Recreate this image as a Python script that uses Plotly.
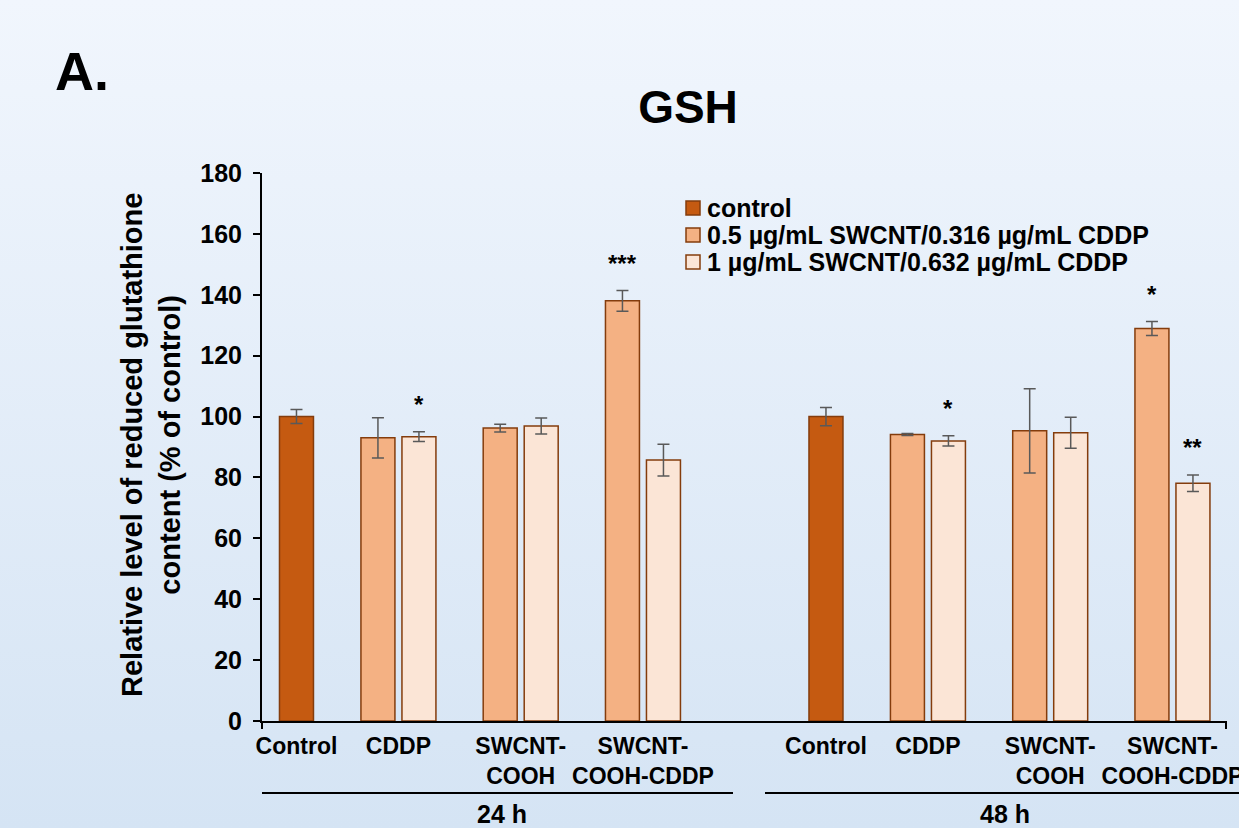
import base64
import plotly.graph_objects as go

# ---------------- data ----------------
times = ["24 h", "48 h"]
treatments = ["Control", "CDDP", "SWCNT-COOH", "SWCNT-COOH-CDDP"]
tick_labels = ["Control", "CDDP", "SWCNT-<br>COOH", "SWCNT-<br>COOH-CDDP"]
series_names = ["control",
                "0.5 µg/mL SWCNT/0.316 µg/mL CDDP",
                "1 µg/mL SWCNT/0.632 µg/mL CDDP"]

control_mean = [100.0, 100.0]
control_sd = [2.3, 3.0]
# order: 24 h CDDP, COOH, COOH-CDDP, 48 h CDDP, COOH, COOH-CDDP
low_mean = [93.0, 96.2, 138.0, 94.1, 95.3, 128.9]
low_sd = [6.6, 1.3, 3.4, 0.3, 13.8, 2.3]
high_mean = [93.4, 96.9, 85.7, 92.0, 94.7, 78.1]
high_sd = [1.6, 2.6, 5.2, 1.7, 5.1, 2.7]
low_sig = ["", "", "***", "", "", "*"]
high_sig = ["*", "", "", "*", "", "**"]

# ---------------- category layout (axis units) ----------------
GROUP_STEP = 4.331   # distance between the two time groups
CTRL_GAP = 0.834     # distance from control slot to first treatment slot


def cat_pos(gi, ti):
    return gi * GROUP_STEP + (0.0 if ti == 0 else CTRL_GAP + ti - 1)


x_control = [cat_pos(gi, 0) for gi in range(len(times))]
x_treat = [cat_pos(gi, ti) for gi in range(len(times)) for ti in range(1, len(treatments))]
tick_vals = [cat_pos(gi, ti) for gi in range(len(times)) for ti in range(len(treatments))]

# ---------------- style ----------------
FONT = "Liberation Sans, Arial, sans-serif"
col_ctrl = "#C55A11"
col_low = "#F4B183"
col_high = "#FBE5D6"
edge = "#843C0C"
err_col = "#595959"
W = 0.278          # bar width (axis units)
HALF_SEP = 0.1677  # half distance between paired bar centres

fig = go.Figure()
fig.add_trace(go.Bar(
    x=x_control, y=control_mean, name=series_names[0], showlegend=False,
    marker=dict(color=col_ctrl, line=dict(color=edge, width=1.5)),
    width=W, offset=-W / 2,
    error_y=dict(type="data", array=control_sd, color=err_col, thickness=1.5, width=6),
))
fig.add_trace(go.Bar(
    x=x_treat, y=low_mean, name=series_names[1], showlegend=False,
    marker=dict(color=col_low, line=dict(color=edge, width=1.5)),
    width=W, offset=-HALF_SEP - W / 2,
    error_y=dict(type="data", array=low_sd, color=err_col, thickness=1.5, width=6),
))
fig.add_trace(go.Bar(
    x=x_treat, y=high_mean, name=series_names[2], showlegend=False,
    marker=dict(color=col_high, line=dict(color=edge, width=1.5)),
    width=W, offset=HALF_SEP - W / 2,
    error_y=dict(type="data", array=high_sd, color=err_col, thickness=1.5, width=6),
))

# significance marks
annotations = []
for xs, means, sds, sigs, sgn in [(x_treat, low_mean, low_sd, low_sig, -1),
                                  (x_treat, high_mean, high_sd, high_sig, 1)]:
    for x, m, s, g in zip(xs, means, sds, sigs):
        if g:
            annotations.append(dict(
                x=x + sgn * HALF_SEP, y=m + s, xref="x", yref="y", text=g,
                showarrow=False, xanchor="center", yanchor="bottom", yshift=12,
                font=dict(family=FONT, size=24, color="black", weight="bold")))

# figure geometry
FW, FH = 1239, 828
ML, MR, MT, MB = 262, 13, 173, 107
PW, PH = FW - ML - MR, FH - MT - MB


def px(xp):
    return (xp - ML) / PW


def py(yp):
    return (FH - MB - yp) / PH


# y-axis title
annotations.append(dict(
    x=px(151), y=py(445), xref="paper", yref="paper", showarrow=False,
    text="Relative level of reduced glutathione<br>content (% of control)",
    textangle=-90, xanchor="center", yanchor="middle",
    font=dict(family=FONT, size=29, color="black", weight="bold")))
# panel letter
annotations.append(dict(
    x=px(82), y=py(71), xref="paper", yref="paper", showarrow=False,
    text="A.", xanchor="center", yanchor="middle",
    font=dict(family=FONT, size=54, color="black", weight="bold")))
# time group labels
for t, cx in zip(times, [502, 1005]):
    annotations.append(dict(
        x=px(cx), y=py(814), xref="paper", yref="paper", showarrow=False,
        text=t, xanchor="center", yanchor="middle",
        font=dict(family=FONT, size=25, color="black", weight="bold")))

shapes = [
    # group underlines
    dict(type="line", xref="paper", yref="paper", x0=px(262), x1=px(733),
         y0=py(793), y1=py(793), line=dict(color="black", width=2)),
    dict(type="line", xref="paper", yref="paper", x0=px(765), x1=px(1245),
         y0=py(793), y1=py(793), line=dict(color="black", width=2)),
    # end ticks of the category axis
    dict(type="line", xref="paper", yref="paper", x0=0, x1=0,
         y0=0, y1=-8 / PH, line=dict(color="black", width=2)),
    dict(type="line", xref="paper", yref="paper", x0=1, x1=1,
         y0=0, y1=-8 / PH, line=dict(color="black", width=2)),
]

# legend (keys + labels)
legend_colors = [col_ctrl, col_low, col_high]
LEG_X, LEG_Y0, LEG_DY, KEY = 686, 208, 27, 14
for i, (name, c) in enumerate(zip(series_names, legend_colors)):
    cy = LEG_Y0 + i * LEG_DY
    shapes.append(dict(type="rect", xref="paper", yref="paper",
                       x0=px(LEG_X), x1=px(LEG_X + KEY),
                       y0=py(cy - KEY / 2), y1=py(cy + KEY / 2),
                       fillcolor=c, line=dict(color=edge, width=1.5)))
    annotations.append(dict(
        x=px(LEG_X + KEY + 5), y=py(cy), xref="paper", yref="paper", showarrow=False,
        text=name, xanchor="left", yanchor="middle",
        font=dict(family=FONT, size=25, color="black", weight="bold")))

# gradient background
svg = ('<svg xmlns="http://www.w3.org/2000/svg" width="1239" height="828" '
       'preserveAspectRatio="none"><defs><linearGradient id="g" x1="0" y1="0" x2="0" y2="1">'
       '<stop offset="0" stop-color="#f1f6fd"/><stop offset="1" stop-color="#d5e4f4"/>'
       '</linearGradient></defs><rect width="1239" height="828" fill="url(#g)"/></svg>')
src = "data:image/svg+xml;base64," + base64.b64encode(svg.encode()).decode()

x_range = [-0.282, 7.603]

fig.update_layout(
    width=FW, height=FH, autosize=False,
    margin=dict(l=ML, r=MR, t=MT, b=MB, pad=0, autoexpand=False),
    paper_bgcolor="#e3edf8", plot_bgcolor="rgba(0,0,0,0)",
    barmode="overlay", showlegend=False,
    font=dict(family=FONT, color="black"),
    title=dict(text="GSH", x=688 / FW, xanchor="center", xref="container",
               y=1 - 107 / FH, yanchor="middle", yref="container",
               font=dict(family=FONT, size=46, color="black", weight="bold")),
    xaxis=dict(type="linear", range=x_range, tickmode="array", tickvals=tick_vals,
               ticktext=tick_labels * 2, ticks="", tickangle=0, automargin=False,
               ticklabeloverflow="allow",
               showline=True, linecolor="black", linewidth=2, showgrid=False,
               zeroline=False, ticklabelstandoff=3,
               tickfont=dict(family=FONT, size=23, color="black", weight="bold")),
    yaxis=dict(range=[0, 180], dtick=20, ticks="outside", ticklen=7, tickwidth=2,
               tickcolor="black", showline=True, linecolor="black", linewidth=2,
               showgrid=False, zeroline=False, automargin=False, ticklabelstandoff=6,
               tickfont=dict(family=FONT, size=25, color="black", weight="bold")),
    annotations=annotations,
    shapes=shapes,
    images=[dict(source=src, xref="paper", yref="paper", x=-ML / PW, y=1 + MT / PH,
                 sizex=FW / PW, sizey=FH / PH, xanchor="left", yanchor="top",
                 sizing="stretch", layer="below")],
)

fig.write_html("out.html")
